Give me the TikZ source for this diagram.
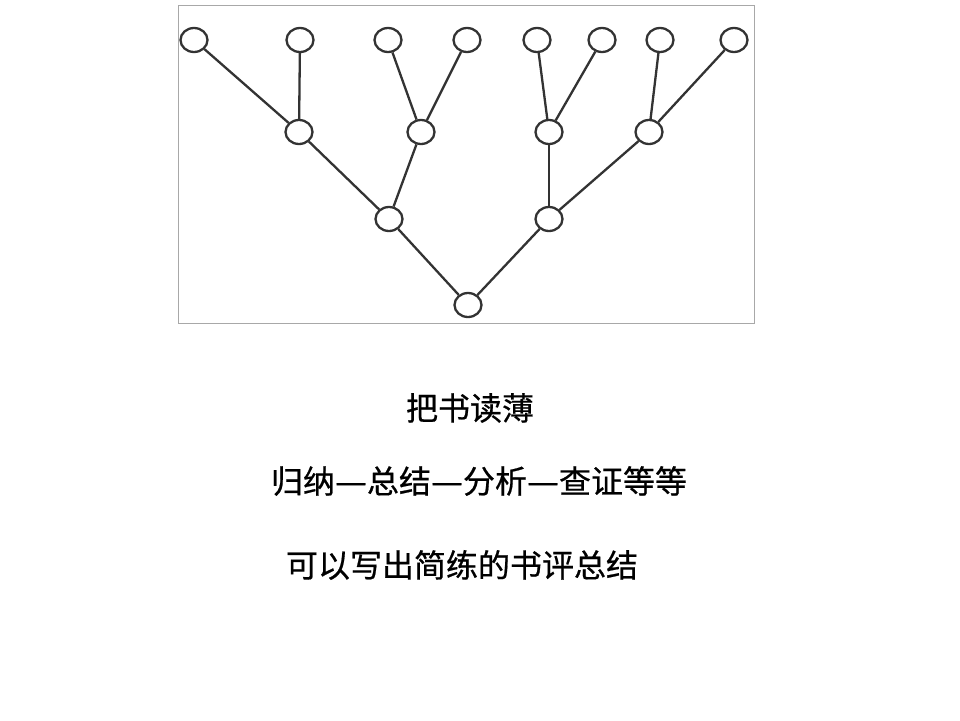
\documentclass[tikz,border=0pt]{standalone}
\usepackage{fontspec}
\usepackage{graphicx}
\newfontfamily\cjk[FakeBold=0.6]{Noto Sans CJK SC}
\usetikzlibrary{shapes.geometric}
\definecolor{edgec}{HTML}{333333}
\definecolor{framec}{HTML}{A8A8A8}
\newcommand{\longdash}{\makebox[1em][c]{\scalebox{1.12}[1]{—}}}
\tikzset{
  vtx/.style={ellipse,draw=edgec,line width=2.3pt,fill=white,minimum width=27pt,minimum height=24pt,inner sep=0pt},
  link/.style={draw=edgec,line width=2.3pt},
  caption/.style={font=\cjk\fontsize{32}{38}\selectfont,text=black,inner sep=0pt,anchor=center}
}
\begin{document}
\begin{tikzpicture}[x=1pt,y=-1pt]
\useasboundingbox (0,0) rectangle (960,720);
\fill[white] (0,0) rectangle (960,720);
\node[draw=framec,line width=0.9pt,minimum width=576pt,minimum height=318pt,inner sep=0pt,anchor=north west] (frame) at (178,4.5) {};
% leaves
\node[vtx] (l1) at (194,40) {};
\node[vtx] (l2) at (300,40) {};
\node[vtx] (l3) at (388,40) {};
\node[vtx] (l4) at (467,40) {};
\node[vtx] (l5) at (537,40) {};
\node[vtx] (l6) at (602,40) {};
\node[vtx] (l7) at (660,40) {};
\node[vtx] (l8) at (734,40) {};
% level 2
\node[vtx] (m1) at (299,132) {};
\node[vtx] (m2) at (421,132) {};
\node[vtx] (m3) at (549,132) {};
\node[vtx] (m4) at (649,132) {};
% level 3
\node[vtx] (n1) at (389,219) {};
\node[vtx] (n2) at (549,219) {};
% root
\node[vtx] (r) at (468,305) {};
\draw[link] (l1) -- (m1);
\draw[link] (l2) -- (m1);
\draw[link] (l3) -- (m2);
\draw[link] (l4) -- (m2);
\draw[link] (l5) -- (m3);
\draw[link] (l6) -- (m3);
\draw[link] (l7) -- (m4);
\draw[link] (l8) -- (m4);
\draw[link] (m1) -- (n1);
\draw[link] (m2) -- (n1);
\draw[link] (m3) -- (n2);
\draw[link] (m4) -- (n2);
\draw[link] (n1) -- (r);
\draw[link] (n2) -- (r);
% texts
\node[caption] (t1) at (470,408) {把书读薄};
\node[caption] (t2) at (479,481) {归纳\longdash 总结\longdash 分析\longdash 查证等等};
\node[caption] (t3) at (462,565) {可以写出简练的书评总结};
\end{tikzpicture}
\end{document}
